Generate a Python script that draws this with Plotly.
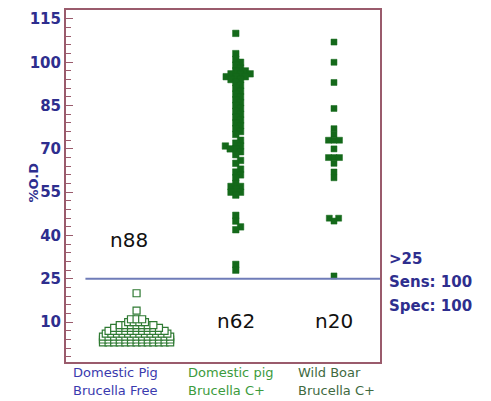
import math
from collections import Counter
import plotly.graph_objects as go

# ---- data ----
group_line1 = ["Domestic Pig", "Domestic pig", "Wild Boar"]
group_line2 = ["Brucella Free", "Brucella C+", "Brucella C+"]
group_x = [1.07, 2.04, 3]
n_labels = ["n88", "n62", "n20"]

free_vals = ([20, 14] + [3] * 13 + [4] * 13 + [5] * 13 + [6] * 12 + [7] * 11 +
             [8] * 9 + [9] * 7 + [10] * 4 + [11] * 3)
pig_pos_vals = [110, 103, 101, 100, 99, 98, 97, 97, 96, 96, 96, 95, 95, 95, 94,
                94, 93, 92, 91, 90, 89, 88, 87, 86, 85, 84, 83, 82, 81, 80,
                79, 78, 77, 76, 75, 73, 72, 71, 71, 70, 70, 69, 68, 66, 65,
                63, 62, 61, 60, 58, 57, 57, 56, 55, 55, 54, 47, 45, 43, 42,
                30, 28]
boar_vals = [107, 100, 93, 84, 77, 75, 73, 73, 73, 70, 67, 67, 67, 65, 62, 60,
             46, 46, 45, 26]
cutoff = 25
y_ticks = [10, 25, 40, 55, 70, 85, 100, 115]

# ---- layout constants ----
W, H = 491, 401
ML, MR, MT, MB = 66, 111, 8, 39
XR = [0.38, 3.45]
YR = [-3.8, 118.1]
pw, ph = W - ML - MR, H - MT - MB
xpx = pw / (XR[1] - XR[0])
ypx = ph / (YR[1] - YR[0])


def swarm(vals, d):
    placed = []
    offs = [0.0] * len(vals)
    order = sorted(range(len(vals)), key=lambda i: vals[i])
    for i in order:
        y = vals[i] * ypx
        cands = [0.0]
        for (py, pxo) in placed:
            dy = abs(py - y)
            if dy < d:
                dx = math.sqrt(d * d - dy * dy)
                cands += [pxo + dx, pxo - dx]
        cands.sort(key=abs)
        c = 0.0
        for c in cands:
            ok = True
            for (py, pxo) in placed:
                if (py - y) ** 2 + (pxo - c) ** 2 < d * d - 1e-6:
                    ok = False
                    break
            if ok:
                break
        placed.append((y, c))
        offs[i] = c / xpx
    return offs


def dotplot(vals, s):
    """centered rows: equal values spread horizontally with spacing s px"""
    cnt = Counter(vals)
    seen = Counter()
    offs = []
    for v in vals:
        k = cnt[v]
        j = seen[v]
        seen[v] += 1
        offs.append((j - (k - 1) / 2) * s / xpx)
    return offs


def py2paper(ypix):
    return 1 - (ypix - MT) / ph


def px2paper(xpix):
    return (xpix - ML) / pw


fig = go.Figure()
green = "#14691a"

o1 = dotplot(free_vals, 5.6)
fig.add_trace(go.Scatter(
    x=[group_x[0] + o for o in o1], y=free_vals, mode="markers",
    marker=dict(symbol="square", size=7, color="white",
                line=dict(color="#2f7a33", width=1.2)),
    showlegend=False, hoverinfo="y"))

o2 = swarm(pig_pos_vals, 5.6)
fig.add_trace(go.Scatter(
    x=[group_x[1] + o for o in o2], y=pig_pos_vals, mode="markers",
    marker=dict(symbol="square", size=6.5, color=green,
                line=dict(color=green, width=0.5)),
    showlegend=False, hoverinfo="y"))

o3 = swarm(boar_vals, 5.5)
fig.add_trace(go.Scatter(
    x=[group_x[2] + o for o in o3], y=boar_vals, mode="markers",
    marker=dict(symbol="square", size=6, color=green,
                line=dict(color=green, width=0.5)),
    showlegend=False, hoverinfo="y"))

# cutoff line
fig.add_shape(type="line", xref="x", yref="y", x0=0.57, x1=XR[1], y0=cutoff, y1=cutoff,
              line=dict(color="#6f7cb8", width=2))

# n labels
nfont = dict(family="DejaVu Sans", size=20, color="#111111")
fig.add_annotation(x=1.0, y=38.5, text=n_labels[0], showarrow=False, font=nfont)
fig.add_annotation(x=2.04, y=10.5, text=n_labels[1], showarrow=False, font=nfont)
fig.add_annotation(x=3.0, y=10.5, text=n_labels[2], showarrow=False, font=nfont)

# right side text
rfont = dict(family="DejaVu Sans", size=15, color="#2e2e8e")
for txt, ypix in [("<b>&gt;25</b>", 258), ("<b>Sens: 100</b>", 282), ("<b>Spec: 100</b>", 306)]:
    fig.add_annotation(xref="paper", yref="paper", x=px2paper(387), y=py2paper(ypix),
                       text=txt, showarrow=False, xanchor="left", yanchor="middle", font=rfont)

# group labels
gcols = ["#3a3aae", "#3c9b3c", "#3f6a3f"]
gx = [71, 186, 296]
for l1, l2, c, xp in zip(group_line1, group_line2, gcols, gx):
    for txt, ypix in [(l1, 373), (l2, 391)]:
        fig.add_annotation(xref="paper", yref="paper", x=px2paper(xp), y=py2paper(ypix),
                           text=txt, showarrow=False, xanchor="left", yanchor="middle",
                           font=dict(family="DejaVu Sans", size=13, color=c))

# y title
fig.add_annotation(xref="paper", yref="paper", x=px2paper(24), y=py2paper(182),
                   text="<b>%O.D</b>", textangle=-90, showarrow=False,
                   font=dict(family="DejaVu Sans", size=13, color="#2e2e8e"))

frame = "#9a5b6c"
fig.update_layout(
    width=W, height=H, margin=dict(l=ML, r=MR, t=MT, b=MB),
    plot_bgcolor="white", paper_bgcolor="white",
    xaxis=dict(range=XR, showticklabels=False, ticks="", showgrid=False, zeroline=False,
               showline=True, linecolor=frame, linewidth=2, mirror=True),
    yaxis=dict(range=YR, tickvals=y_ticks, ticks="inside", ticklen=7, tickcolor=frame,
               tickwidth=1, showgrid=False, zeroline=False,
               showline=True, linecolor=frame, linewidth=2, mirror=True,
               tickfont=dict(family="DejaVu Sans", size=15, color="#2e2e8e", weight="bold"),
               minor=dict(tick0=1, dtick=3, ticks="inside", ticklen=5, tickcolor=frame,
                          showgrid=False)),
)

fig.write_html("out.html", config={"displayModeBar": False},
               post_script="document.body.style.margin='0';document.body.style.overflow='hidden';")
